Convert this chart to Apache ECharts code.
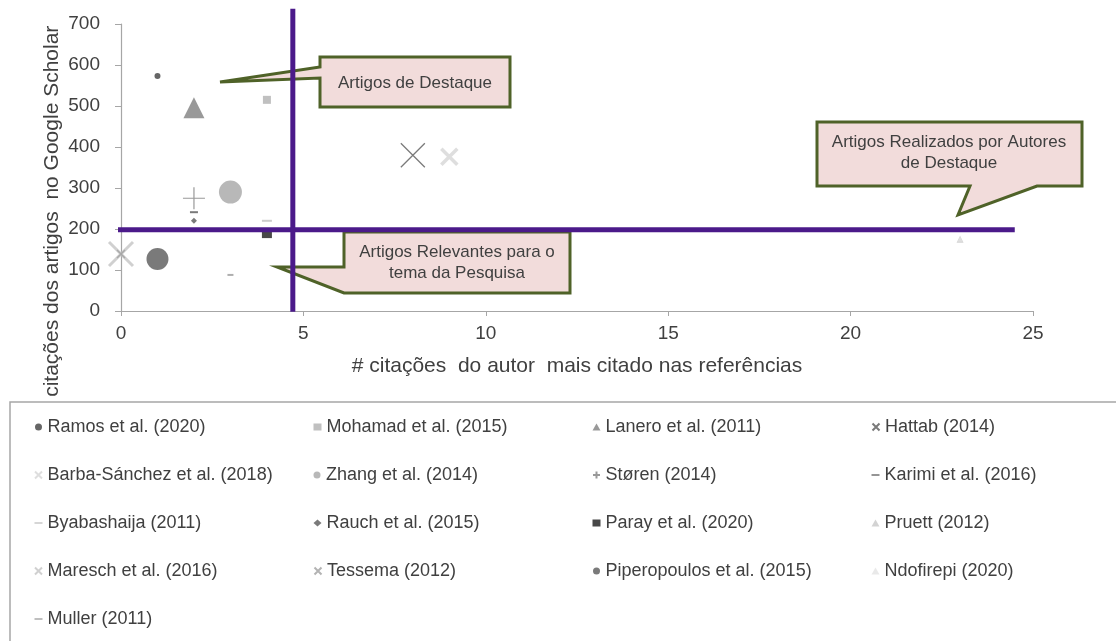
<!DOCTYPE html>
<html><head><meta charset="utf-8">
<script src="https://cdn.jsdelivr.net/npm/echarts@6/dist/echarts.min.js"></script>
<style>html,body{margin:0;padding:0;background:#fff}#c{width:1116px;height:641px}</style>
</head><body><div id="c"></div><script>
// ---- data ----
const seriesNames = ['Ramos et al. (2020)','Mohamad et al. (2015)','Lanero et al. (2011)','Hattab (2014)',
  'Barba-Sánchez et al. (2018)','Zhang et al. (2014)','Støren (2014)','Karimi et al. (2016)',
  'Byabashaija (2011)','Rauch et al. (2015)','Paray et al. (2020)','Pruett (2012)',
  'Maresch et al. (2016)','Tessema (2012)','Piperopoulos et al. (2015)','Ndofirepi (2020)','Muller (2011)'];
const authorCitations = [1, 4, 2, 8, 9, 3, 2, 2, 4, 2, 4, 23, 0, 0, 1, 23, 3];
const articleCitations = [573, 515, 496, 380, 376, 290, 275, 241, 220, 220, 190, 175, 139, 139, 127, 175, 88];
const xTicks = [0, 5, 10, 15, 20, 25];
const yTicks = [0, 100, 200, 300, 400, 500, 600, 700];
const thresholdX = 4.71, thresholdY = 198;
const vLineRange = [-2, 737];
const hLineRange = [-0.41, 24.5];

// ---- styles ----
const FONT = '"Liberation Sans", Arial, sans-serif';
const X = 'path://M0,0L10,10M10,0L0,10';
const PLUS = 'path://M5,0L5,10M0,5L10,5';
const DASH = 'path://M0,4L10,4L10,6L0,6Z';
const styles = [
  {symbol:'circle', size:6, color:'#404040'},
  {symbol:'rect', size:8, color:'#B0B0B0'},
  {symbol:'triangle', size:21, color:'#7F7F7F'},
  {symbol:X, size:24, stroke:'#595959', lw:1.3},
  {symbol:X, size:16, stroke:'#D6D6D6', lw:3.5},
  {symbol:'circle', size:23, color:'#A6A6A6'},
  {symbol:PLUS, size:22, stroke:'#7F7F7F', lw:1.2},
  {symbol:'rect', size:[8,2], color:'#595959', icon:DASH},
  {symbol:'rect', size:[10,2], color:'#BFBFBF', icon:DASH},
  {symbol:'diamond', size:6, color:'#595959'},
  {symbol:'rect', size:10, color:'#1A1A1A'},
  {symbol:'triangle', size:7, color:'#C8C8C8'},
  {symbol:X, size:24, stroke:'#C4C4C4', lw:3},
  {symbol:X, size:8, stroke:'#A0A0A0', lw:1.5},
  {symbol:'circle', size:22, color:'#595959'},
  {symbol:'triangle', size:5, color:'#E3E3E3'},
  {symbol:'rect', size:[6,2], color:'#9A9A9A', icon:DASH}
];
const PURPLE = '#4B1A8A';

const series = seriesNames.map((n, i) => {
  const s = styles[i];
  const itemStyle = s.stroke ? {color:'rgba(0,0,0,0)', borderColor:s.stroke, borderWidth:s.lw} : {color:s.color};
  return {name:n, type:'scatter', data:[[authorCitations[i], articleCitations[i]]],
    symbol:s.symbol, symbolSize:s.size, itemStyle, z:3, silent:true};
});
series.push({name:'limiar-y', type:'line', data:[[hLineRange[0], thresholdY],[hLineRange[1], thresholdY]],
  symbol:'none', clip:false, lineStyle:{color:PURPLE, width:5}, z:5, silent:true});
series.push({name:'limiar-x', type:'line', data:[[thresholdX, vLineRange[0]],[thresholdX, vLineRange[1]]],
  symbol:'none', clip:false, lineStyle:{color:PURPLE, width:5}, z:5, silent:true});

const legendData = seriesNames.map((n, i) => styles[i].icon ? {name:n, icon:styles[i].icon} : {name:n});

const boxStyle = {fill:'#F2DCDB', stroke:'#4F6228', lineWidth:3, lineJoin:'miter'};
const calloutText = (x, y, t) => ({type:'text', z:3, x, y, style:{text:t, fontFamily:FONT, fontSize:17, lineHeight:21,
  fill:'#404040', align:'center', verticalAlign:'middle'}});

const chart = echarts.init(document.getElementById('c'), null, {renderer:'canvas'});
chart.setOption({
  animation:false,
  backgroundColor:'#fff',
  grid:{left:121, right:83, top:24, bottom:330},
  xAxis:{type:'value', min:xTicks[0], max:xTicks[xTicks.length-1], interval:5,
    name:'# citações  do autor  mais citado nas referências', nameLocation:'middle', nameGap:45,
    nameTextStyle:{fontFamily:FONT, fontSize:21, color:'#404040'},
    axisLine:{lineStyle:{color:'#A6A6A6', width:1.2}}, axisTick:{length:5, lineStyle:{color:'#A6A6A6'}},
    axisLabel:{fontFamily:FONT, fontSize:19, color:'#404040', margin:13}, splitLine:{show:false}},
  yAxis:{type:'value', min:yTicks[0], max:yTicks[yTicks.length-1], interval:100,
    axisLine:{show:true, lineStyle:{color:'#A6A6A6', width:1.2}}, axisTick:{show:true, length:6, lineStyle:{color:'#A6A6A6'}},
    axisLabel:{fontFamily:FONT, fontSize:19, color:'#404040', margin:21}, splitLine:{show:false}},
  legend:{data:legendData, left:34, top:408, width:1110, padding:0, itemGap:10, itemWidth:8, itemHeight:7,
    selectedMode:false, textStyle:{fontFamily:FONT, fontSize:18, color:'#404040', width:256, lineHeight:38}},
  graphic:[
    {type:'text', z:1, x:52, y:220, rotation:Math.PI/2, style:{text:'# citações dos artigos  no Google Scholar',
      fontFamily:FONT, fontSize:21, fill:'#404040', align:'center', verticalAlign:'middle'}},
    {type:'rect', z:2, shape:{x:10, y:402, width:1120, height:260}, style:{fill:'#fff', stroke:'#A6A6A6', lineWidth:1.5}},
    {type:'polygon', z:1, shape:{points:[[320,57],[510,57],[510,107],[320,107],[320,78],[220,82],[320,67]]}, style:boxStyle},
    calloutText(415, 83, 'Artigos de Destaque'),
    {type:'polygon', z:1, shape:{points:[[344,232],[570,232],[570,293],[344,293],[277,267],[344,267]]}, style:boxStyle},
    calloutText(457, 263, 'Artigos Relevantes para o\ntema da Pesquisa'),
    {type:'polygon', z:1, shape:{points:[[817,122],[1082,122],[1082,186],[1037,186],[958,215],[970,186],[817,186]]}, style:boxStyle},
    calloutText(949, 153, 'Artigos Realizados por Autores\nde Destaque')
  ],
  series
});
</script></body></html>
